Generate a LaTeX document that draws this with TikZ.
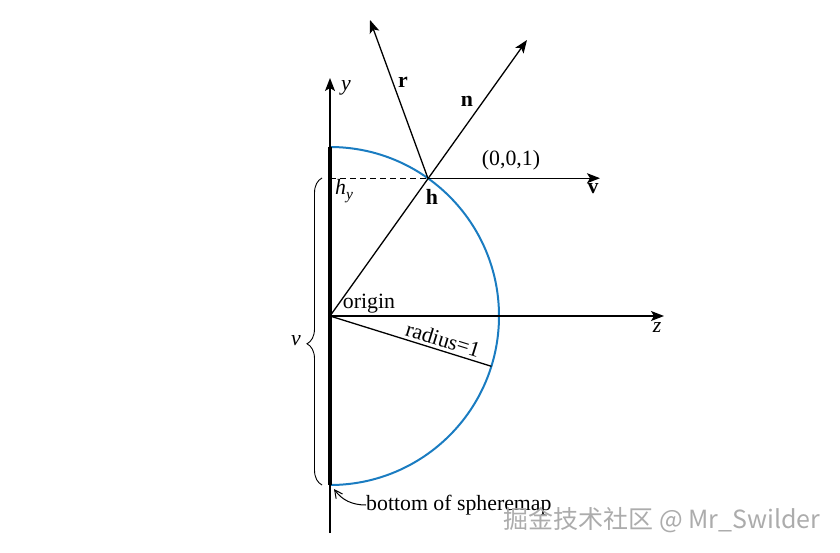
\documentclass[tikz,border=0pt]{standalone}
\usepackage{fontspec}
\setmainfont{Liberation Serif}
\newfontfamily\cjkfont{Noto Sans CJK SC}
\usetikzlibrary{arrows.meta,decorations.pathreplacing}
\definecolor{arcblue}{HTML}{1A7CC1}
\tikzset{
  vec/.style={line width=1.3pt,-{Stealth[length=13pt,width=10pt,inset=3pt]}},
  thinline/.style={line width=1.3pt},
  lbl/.style={inner sep=0pt,font=\fontsize{21.8}{24}\selectfont},
}
\begin{document}
\begin{tikzpicture}[x=1pt,y=1pt]
\useasboundingbox (0,0) rectangle (840,-552);
% key points
\coordinate (O) at (330,-316);
\coordinate (H) at (427.9,-178.2);
\coordinate (Ytip) at (330,-78);
\coordinate (Ybot) at (330,-533);
\coordinate (Ztip) at (664,-316);
\coordinate (Ntip) at (527,-40);
\coordinate (Rtip) at (370,-20);
\coordinate (Vtip) at (600,-178.2);
\coordinate (Top) at (330,-147);
\coordinate (Bot) at (330,-485);
\coordinate (Hy) at (330,-178.2);
\coordinate (Rad) at (491.4,-366.3);
\coordinate (BrB) at (322,-485);
\coordinate (BrT) at (322,-178);
% blue hemisphere
\draw[arcblue,line width=2pt] (Top) arc[start angle=90,end angle=-90,radius=169];
% thick spheremap bar
\draw[line width=4pt] (Top) -- (Bot);
% axes
\draw[thinline] (Ybot) -- (O);
\draw[vec] (O) -- (Ytip);
\draw[vec] (O) -- (Ztip);
% vectors
\draw[vec] (O) -- (Ntip);
\draw[vec] (H) -- (Rtip);
\draw[vec] (H) -- (Vtip);
\draw[thinline,dash pattern=on 6pt off 4pt] (Hy) -- (H);
\draw[thinline] (O) -- (Rad) node[lbl,pos=0.68,sloped,above=3pt] (radlab) {radius=1};
% brace
\draw[line width=0.9pt,decorate,decoration={brace,amplitude=15pt,aspect=0.46}] (BrB) -- (BrT);
% labels
\node[lbl] (ylab) at (346,-88) {\textit{y}};
\node[lbl] (zlab) at (657,-327) {\textit{z}};
\node[lbl] (rlab) at (403,-82) {\textbf{r}};
\node[lbl] (nlab) at (467,-101) {\textbf{n}};
\node[lbl] (vvec) at (593,-189) {\textbf{v}};
\node[lbl] (hlab) at (432,-197) {\textbf{h}};
\node[lbl] (coord) at (511,-160) {(0,0,1)};
\node[lbl,anchor=west] (hylab) at (335,-191) {\textit{h}\raisebox{-0.22em}{\fontsize{15.5}{16}\selectfont\textit{y}}};
\node[lbl] (orig) at (369,-304) {origin};
\node[lbl] (vlab) at (296,-341) {\textit{v}};
\node[lbl,anchor=west] (bot) at (366,-505) {bottom of spheremap};
\draw[line width=1pt,-{Straight Barb[length=8pt,width=8pt]}] (bot.west) .. controls (352,-505) and (342,-500) .. (334,-489);
\node[inner sep=0pt,font=\cjkfont\fontsize{25}{27}\selectfont,text=gray!65] (wm) at (662,-520) {掘金技术社区 @ Mr\_Swilder};
\end{tikzpicture}
\end{document}
